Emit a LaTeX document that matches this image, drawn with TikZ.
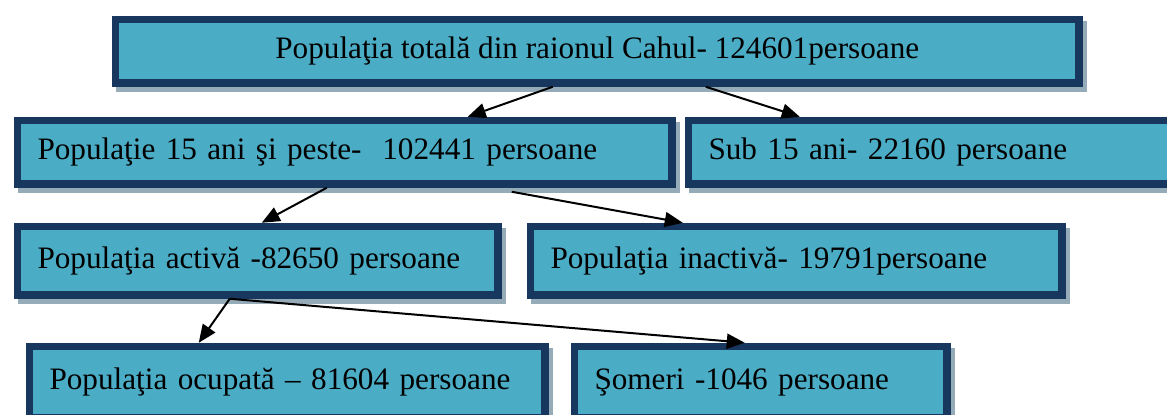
\documentclass[tikz,border=0pt]{standalone}
\usepackage{fontspec}
\setmainfont{Liberation Serif}
\usetikzlibrary{shadows,arrows.meta}
\definecolor{boxfill}{HTML}{4BACC6}
\definecolor{boxline}{HTML}{17375E}
\definecolor{boxshade}{HTML}{95ABB8}
\begin{document}
\begin{tikzpicture}[x=0.5pt, y=-0.5pt,
		box/.style={draw=boxline, line width=3.75pt, fill=boxfill, anchor=north west,
			inner xsep=10pt, inner ysep=0pt, align=left, font=\fontsize{15.6}{18}\selectfont,
			general shadow={draw=boxshade, fill=boxshade, line width=3.75pt, shadow xshift=2pt, shadow yshift=-2.5pt}},
		arrow/.style={-{Triangle[length=9pt,width=7.5pt]}, line width=1pt}]
		\useasboundingbox (0,0) rectangle (1167,414);

		\node[box, align=center, minimum width=481.75pt, minimum height=31.75pt] (total) at (111.75,15.75) {Populaţia totală din raionul Cahul- 124601persoane};
		\node[box, text width=307.25pt, minimum height=31.75pt] (adult) at (13.75,116.75) {Populaţie 15 ani şi peste-\ \ 102441 persoane};
		\node[box, text width=223.25pt, minimum height=31.75pt] (young) at (684.75,116.75) {Sub 15 ani- 22160 persoane};
		\node[box, text width=220.25pt, minimum height=34.25pt] (active) at (13.75,222.75) {Populaţia activă -82650 persoane};
		\node[box, text width=245.75pt, minimum height=34.25pt] (inactive) at (526.75,222.75) {Populaţia inactivă- 19791persoane};
		\node[box, text width=237.75pt, minimum height=35.75pt] (employed) at (25.75,342.75) {Populaţia ocupată – 81604 persoane};
		\node[box, text width=166.25pt, minimum height=35.75pt] (unemployed) at (570.75,342.75) {Şomeri -1046 persoane};

		\draw[arrow] ([xshift=220.5pt]total.south west) -- ([xshift=227pt]adult.north west);
		\draw[arrow] ([xshift=297pt]total.south west) -- ([xshift=57.5pt]young.north west);
		\draw[arrow] ([xshift=156.5pt]adult.south west) -- ([xshift=124pt]active.north west);
		\draw[arrow] ([xshift=249pt, yshift=-2pt]adult.south west) -- ([xshift=78pt]inactive.north west);
		\draw[arrow] ([xshift=108pt]active.south west) -- ([xshift=86.5pt]employed.north west);
		\draw[arrow] ([xshift=108pt]active.south west) -- ([xshift=87pt]unemployed.north west);
	\end{tikzpicture}
\end{document}
